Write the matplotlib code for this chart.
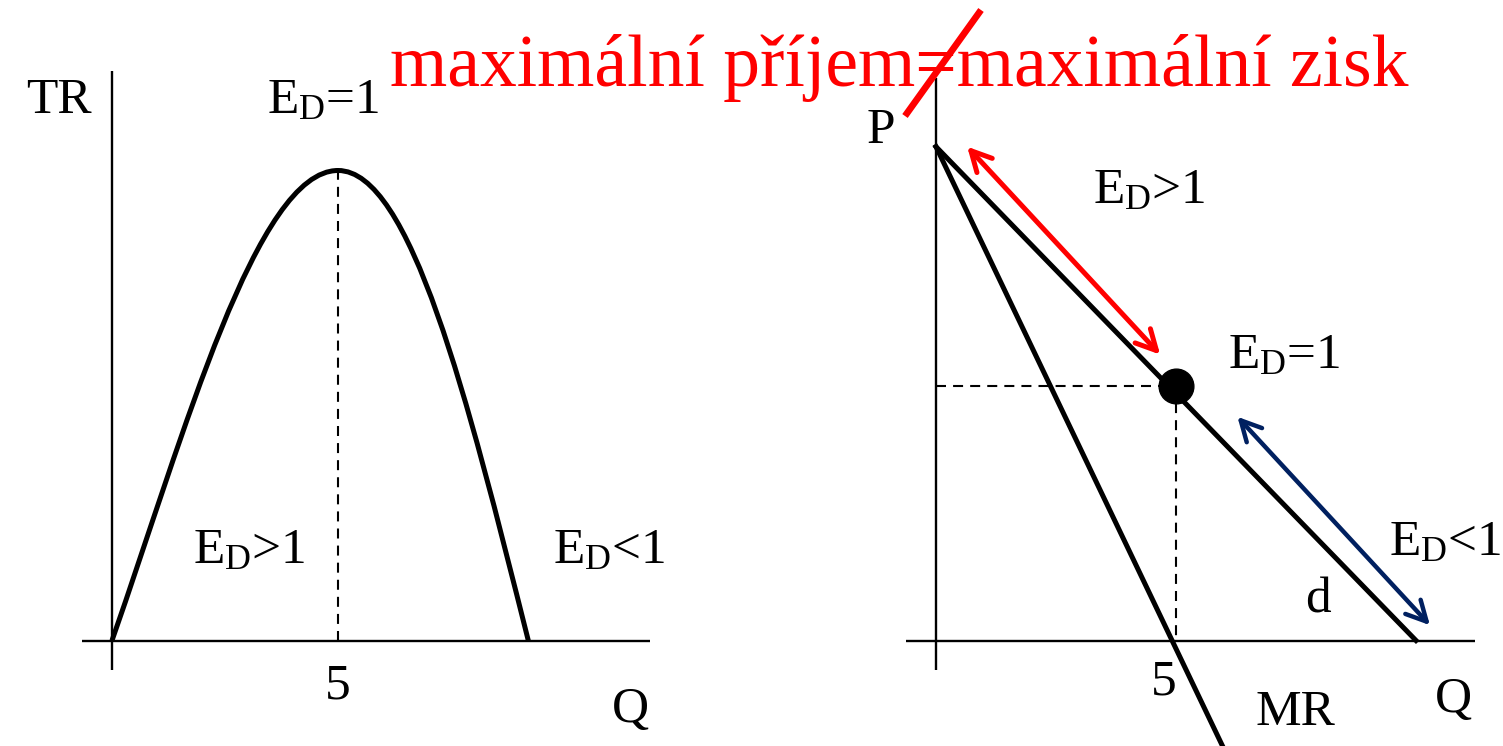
import matplotlib
matplotlib.use("Agg")
import matplotlib.pyplot as plt
from matplotlib.patches import FancyArrowPatch, PathPatch
from matplotlib.path import Path
from matplotlib.lines import Line2D

# ---------------- data ----------------
# Left panel: total revenue curve, as Bezier anchor/control points (Q, TR)
tr_ctrl_q = [0.0, 1.6, 3.2, 5.0, 6.6, 7.85, 9.21]
tr_ctrl_v = [0.0, 11.0, 25.0, 25.0, 25.0, 13.0, 0.0]
q_star = 5          # quantity of unit elasticity / max TR
tr_max = 25

# Right panel: demand (d) and marginal revenue (MR)
d_q = [0, 10]
d_p = [10, 0]
mr_q = [0, 6.0]
mr_p = [10, -2.2]
point_q, point_p = 5, 5.15
red_arrow_q = [0.65, 4.67]
red_arrow_p = [10.0, 5.79]
blue_arrow_q = [6.28, 10.29]
blue_arrow_p = [4.53, 0.31]

title_text = "maximální příjem=maximální zisk"
lbl_eq = "E$_\\mathrm{D}$=1"
lbl_gt = "E$_\\mathrm{D}$>1"
lbl_lt = "E$_\\mathrm{D}$<1"

# ---------------- style ----------------
plt.rcParams['font.family'] = ['Liberation Serif', 'DejaVu Serif']
plt.rcParams['mathtext.fontset'] = 'custom'
plt.rcParams['mathtext.rm'] = 'Liberation Serif'
plt.rcParams['mathtext.it'] = 'Liberation Serif'

W, H = 1503, 746
fig = plt.figure(figsize=(W / 100, H / 100), dpi=100)

FS = 37
LW_CURVE = 3.6
LW_AXIS = 1.7
LW_DASH = 1.5
DASH = (0, (4.8, 3.4))


def make_axes(x0px, x1px, ox, oy, ux, uy):
    ax = fig.add_axes([x0px / W, 0, (x1px - x0px) / W, 1])
    ax.set_xlim((x0px - ox) / ux, (x1px - ox) / ux)
    ax.set_ylim((oy - H) / uy, oy / uy)
    ax.axis('off')
    return ax


# ---------------- left panel ----------------
axL = make_axes(0, 751, 112, 640.5, 45.2, 18.8)
axL.plot([-0.66, 11.9], [0, 0], color='black', lw=LW_AXIS, solid_capstyle='butt')
axL.plot([0, 0], [-1.57, 30.3], color='black', lw=LW_AXIS, solid_capstyle='butt')
codes = [Path.MOVETO] + [Path.CURVE4] * (len(tr_ctrl_q) - 1)
tr_path = Path(list(zip(tr_ctrl_q, tr_ctrl_v)), codes)
axL.add_patch(PathPatch(tr_path, facecolor='none', edgecolor='black', lw=LW_CURVE,
                        capstyle='butt', joinstyle='round'))
axL.plot([q_star, q_star], [0, tr_max], color='black', lw=LW_DASH, linestyle=DASH)

axL.text(-1.18, 28.06, "TR", fontsize=FS, ha='center', va='baseline')
axL.text(3.43, 28.06, lbl_eq, fontsize=FS, ha='left', va='baseline')
axL.text(1.79, 4.12, lbl_gt, fontsize=FS, ha='left', va='baseline')
axL.text(9.76, 4.12, lbl_lt, fontsize=FS, ha='left', va='baseline', clip_on=False)
axL.text(q_star, -3.06, str(q_star), fontsize=FS, ha='center', va='baseline')
axL.text(11.46, -4.34, "Q", fontsize=FS, ha='center', va='baseline')

# ---------------- right panel ----------------
axR = make_axes(751, 1503, 936, 640.5, 48, 49.38)
axR.plot([-0.625, 11.23], [0, 0], color='black', lw=LW_AXIS, solid_capstyle='butt')
axR.plot([0, 0], [-0.6, 11.39], color='black', lw=LW_AXIS, solid_capstyle='butt')
axR.plot(d_q, d_p, color='black', lw=LW_CURVE)
axR.plot(mr_q, mr_p, color='black', lw=LW_CURVE)
axR.plot([0, point_q], [point_p, point_p], color='black', lw=LW_DASH, linestyle=DASH)
axR.plot([point_q, point_q], [point_p, 0], color='black', lw=LW_DASH, linestyle=DASH)
axR.plot([point_q], [point_p], 'o', color='black', markersize=25)

for qs, ps, col, lw in [(red_arrow_q, red_arrow_p, '#ff0000', 3.6),
                        (blue_arrow_q, blue_arrow_p, '#002060', 3.2)]:
    arr = FancyArrowPatch((qs[0], ps[0]), (qs[1], ps[1]),
                          arrowstyle='<->,head_length=1.45,head_width=0.75',
                          mutation_scale=10, color=col, lw=lw,
                          shrinkA=0, shrinkB=0, capstyle='round', joinstyle='round')
    axR.add_patch(arr)

axR.text(-1.146, 10.07, "P", fontsize=FS, ha='center', va='baseline')
axR.text(3.27, 8.86, lbl_gt, fontsize=FS, ha='left', va='baseline')
axR.text(6.08, 5.52, lbl_eq, fontsize=FS, ha='left', va='baseline')
axR.text(9.44, 1.73, lbl_lt, fontsize=FS, ha='left', va='baseline', clip_on=False)
axR.text(7.96, 0.577, "d", fontsize=FS, ha='center', va='baseline')
axR.text(4.75, -1.10, str(q_star), fontsize=FS, ha='center', va='baseline')
axR.text(7.48, -1.71, "MR", fontsize=FS, ha='center', va='baseline')
axR.text(10.79, -1.45, "Q", fontsize=FS, ha='center', va='baseline')

# ---------------- title with crossed "=" ----------------
fig.text(390 / W, (H - 86) / H, title_text, color='#ff0000', fontsize=53,
         ha='left', va='baseline')
fig.add_artist(Line2D([905 / W, 981 / W], [(H - 116) / H, (H - 10) / H],
                      transform=fig.transFigure, color='#ff0000', lw=4.8,
                      solid_capstyle='butt'))

fig.savefig("out.png", dpi=100)
